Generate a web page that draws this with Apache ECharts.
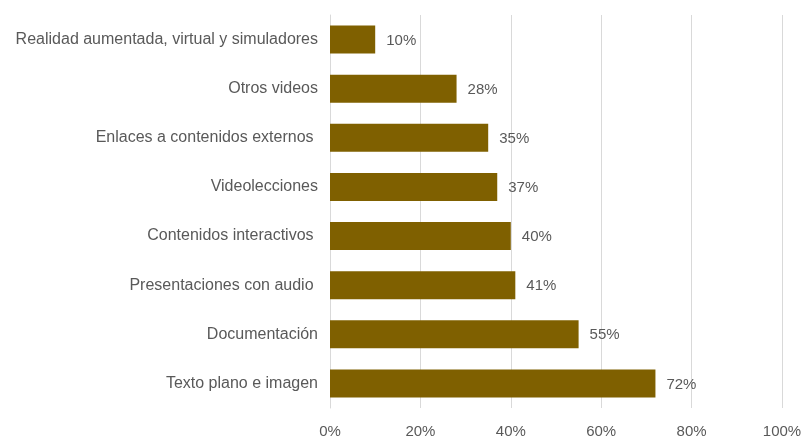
<!DOCTYPE html>
<html>
<head>
<meta charset="utf-8">
<script src="https://cdn.jsdelivr.net/npm/echarts@6/dist/echarts.min.js"></script>
<style>
html, body { margin: 0; padding: 0; background: #fff; }
#chart { width: 805px; height: 439px; }
</style>
</head>
<body>
<div id="chart"></div>
<script>
// categorías (de abajo hacia arriba)
var categorias = ['Texto plano e imagen', 'Documentación', 'Presentaciones con audio ', 'Contenidos interactivos ', 'Videolecciones', 'Enlaces a contenidos externos ', 'Otros videos', 'Realidad aumentada, virtual y simuladores'];
var valores = [72, 55, 41, 40, 37, 35, 28, 10];
var ticks = [0, 20, 40, 60, 80, 100];

var chart = echarts.init(document.getElementById('chart'));
var fuente = '"Liberation Sans", Arial, sans-serif';

chart.setOption({
    animation: false,
    grid: {
        left: 330,
        right: 23,
        top: 15,
        bottom: 28
    },
    xAxis: {
        type: 'value',
        min: 0,
        max: 100,
        interval: 20,
        axisLine: { show: false },
        axisTick: { show: false },
        axisLabel: {
            color: '#595959',
            fontSize: 15,
            fontFamily: fuente,
            margin: 16,
            formatter: function (v) { return ticks.indexOf(v) >= 0 ? v + '%' : ''; }
        },
        splitLine: { lineStyle: { color: '#d9d9d9', width: 1 } }
    },
    yAxis: {
        type: 'category',
        data: categorias,
        axisLine: { show: true, lineStyle: { color: '#d9d9d9' } },
        axisTick: { show: false },
        axisLabel: {
            color: '#595959',
            fontSize: 16,
            fontFamily: fuente,
            margin: 12
        }
    },
    series: [{
        type: 'bar',
        data: valores,
        barWidth: 28,
        itemStyle: { color: '#7f6000' },
        label: {
            show: true,
            position: 'right',
            distance: 11,
            color: '#595959',
            fontSize: 15,
            fontFamily: fuente,
            offset: [0, 1],
            formatter: '{c}%'
        }
    }]
});
</script>
</body>
</html>
